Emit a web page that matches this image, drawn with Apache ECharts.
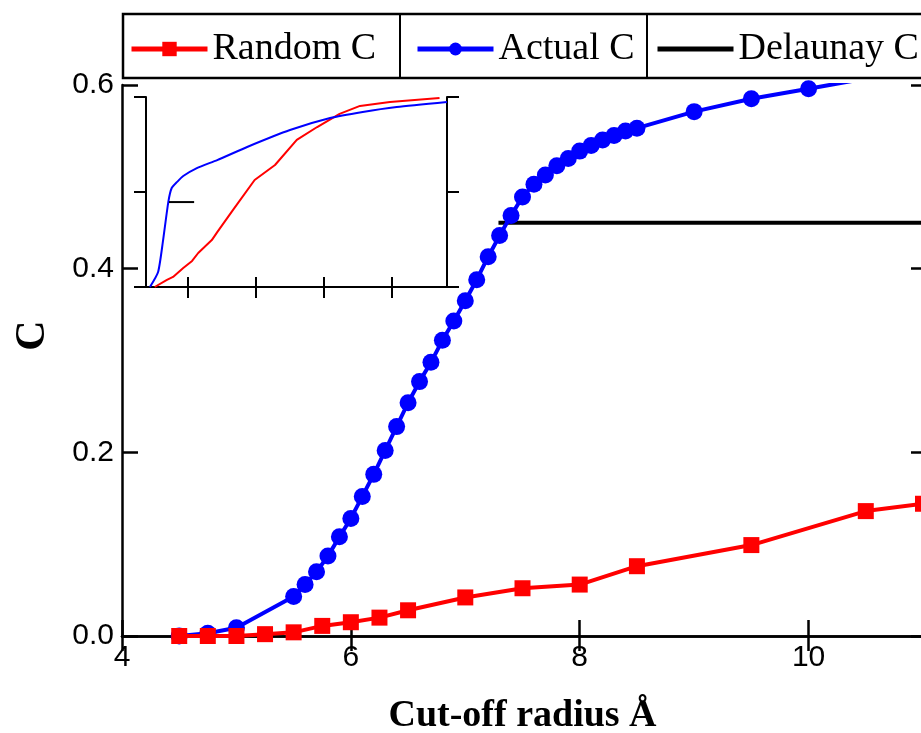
<!DOCTYPE html>
<html>
<head>
<meta charset="utf-8">
<script src="https://cdn.jsdelivr.net/npm/echarts@6/dist/echarts.min.js"></script>
<style>
  html, body { margin: 0; padding: 0; background: #fff; }
  #chart { width: 921px; height: 733px; }
</style>
</head>
<body>
<div id="chart"></div>
<script>
// main panel data: C against cut-off radius
const randomX = [4.5, 4.75, 5.0, 5.25, 5.5, 5.75, 6.0, 6.25, 6.5, 7.0, 7.5, 8.0, 8.5, 9.5, 10.5, 11.0]
const randomC = [0, 0, 0, 0.002, 0.004, 0.011, 0.015, 0.02, 0.028, 0.042, 0.052, 0.056, 0.076, 0.099, 0.136, 0.144]

const actualX = [4.5, 4.75, 5.0, 5.5, 5.6, 5.7, 5.8, 5.9, 6.0, 6.1, 6.2, 6.3, 6.4, 6.5, 6.6, 6.7, 6.8, 6.9, 7.0,
  7.1, 7.2, 7.3, 7.4, 7.5, 7.6, 7.7, 7.8, 7.9, 8.0, 8.1, 8.2, 8.3, 8.4, 8.5, 9.0, 9.5, 10.0, 10.5]
const actualC = [0, 0.003, 0.009, 0.043, 0.056, 0.07, 0.087, 0.108, 0.128, 0.152, 0.176, 0.202, 0.228, 0.254, 0.277,
  0.298, 0.322, 0.343, 0.365, 0.388, 0.413, 0.436, 0.458, 0.478, 0.492, 0.502, 0.512, 0.52, 0.528, 0.534, 0.54,
  0.545, 0.55, 0.553, 0.571, 0.585, 0.596, 0.607]

const delaunayX = [7.29, 11.0]
const delaunayC = [0.45, 0.45]

const xTicks = [4, 6, 8, 10]

// inset data (unlabelled axes)
const insetActualX = [0.44, 0.56, 0.63, 0.71, 0.76, 0.84, 0.93, 1.13, 1.43, 1.87, 2.5, 3.09, 3.57, 4.07, 4.81]
const insetActualC = [0, 0.079, 0.237, 0.447, 0.521, 0.553, 0.584, 0.626, 0.668, 0.737, 0.826, 0.889, 0.921, 0.947, 0.974]
const insetRandomX = [0.51, 0.69, 0.78, 0.93, 1.06, 1.15, 1.35, 1.43, 1.66, 1.98, 2.28, 2.6, 2.9, 3.23, 3.53, 3.97, 4.7]
const insetRandomC = [0, 0.037, 0.053, 0.1, 0.137, 0.179, 0.247, 0.289, 0.405, 0.563, 0.642, 0.774, 0.842, 0.911, 0.953, 0.974, 0.995]
const insetDelaunayX = [0.72, 1.09]
const insetDelaunayC = [0.447, 0.447]
const insetXTicks = [1, 2, 3, 4]

const pairs = (xs, ys) => xs.map((x, i) => [x, ys[i]])

const chart = echarts.init(document.getElementById('chart'))

const sansLabel = { fontFamily: 'Liberation Sans', fontSize: 30, color: '#000' }
const lineBlack = { color: '#000', width: 2.5 }
const legendText = { fontFamily: 'Liberation Serif', fontSize: 38, color: '#000' }

const option = {
  animation: false,
  backgroundColor: '#fff',
  grid: [
    { left: 122, top: 85, width: 801, height: 551, outerBoundsMode: 'none', containLabel: false },
    { left: 146, top: 97, width: 301, height: 190, outerBoundsMode: 'none', containLabel: false }
  ],
  legend: [
    {
      data: ['Random C'], left: 129, top: 30, padding: 0,
      itemWidth: 76, itemHeight: 18, lineStyle: { width: 5 },
      textStyle: legendText
    },
    {
      data: ['Actual C'], left: 415, top: 30, padding: 0,
      itemWidth: 76, itemHeight: 16, lineStyle: { width: 5 },
      textStyle: legendText
    },
    {
      data: [{ name: 'Delaunay C', itemStyle: { opacity: 0 } }], left: 655, top: 30, padding: 0,
      itemWidth: 76, itemHeight: 16, lineStyle: { width: 5 },
      textStyle: legendText
    }
  ],
  // legend frame with cell dividers
  graphic: [
    { type: 'rect', shape: { x: 123, y: 14, width: 810, height: 64 }, style: { fill: 'none', stroke: '#000', lineWidth: 2.5 } },
    { type: 'line', shape: { x1: 400, y1: 14, x2: 400, y2: 78 }, style: { stroke: '#000', lineWidth: 2 } },
    { type: 'line', shape: { x1: 647, y1: 14, x2: 647, y2: 78 }, style: { stroke: '#000', lineWidth: 2 } }
  ],
  xAxis: [
    {
      type: 'value', gridIndex: 0, position: 'bottom', min: 4, max: 11, interval: 2,
      name: 'Cut-off radius Å', nameLocation: 'middle', nameGap: 61,
      nameTextStyle: { fontFamily: 'Liberation Serif', fontWeight: 'bold', fontSize: 38, color: '#000' },
      axisLine: { lineStyle: lineBlack },
      axisTick: { inside: true, length: 16, lineStyle: lineBlack },
      axisLabel: { ...sansLabel, margin: 7, customValues: xTicks },
      splitLine: { show: false }
    },
    {
      type: 'value', gridIndex: 0, position: 'top', min: 4, max: 11, interval: 2,
      axisLine: { lineStyle: lineBlack },
      axisTick: { inside: true, length: 15, lineStyle: lineBlack },
      axisLabel: { show: false },
      splitLine: { show: false }
    },
    {
      type: 'value', gridIndex: 1, position: 'bottom', min: 0.382, max: 4.81,
      axisLine: { lineStyle: { color: '#000', width: 2 } },
      axisTick: { inside: true, length: 10, customValues: insetXTicks, lineStyle: { color: '#000', width: 2 } },
      axisLabel: { show: false },
      splitLine: { show: false }
    },
    {
      type: 'value', gridIndex: 1, position: 'top', min: 0.382, max: 4.81,
      axisLine: { lineStyle: { color: '#000', width: 2 } },
      axisTick: { inside: true, length: 11, customValues: insetXTicks, lineStyle: { color: '#000', width: 2 } },
      axisLabel: { show: false },
      splitLine: { show: false }
    }
  ],
  yAxis: [
    {
      type: 'value', gridIndex: 0, position: 'left', min: 0, max: 0.6, interval: 0.2,
      name: 'C', nameLocation: 'middle', nameGap: 68, nameRotate: 90,
      nameTextStyle: { fontFamily: 'Liberation Serif', fontWeight: 'bold', fontSize: 42, color: '#000', padding: [0, 0, 0, 50] },
      axisLine: { lineStyle: lineBlack },
      axisTick: { inside: true, length: 16, lineStyle: lineBlack },
      axisLabel: { ...sansLabel, margin: 8, formatter: v => v.toFixed(1) },
      splitLine: { show: false }
    },
    {
      type: 'value', gridIndex: 0, position: 'right', min: 0, max: 0.6, interval: 0.2,
      axisLine: { lineStyle: lineBlack },
      axisTick: { inside: true, length: 12, lineStyle: lineBlack },
      axisLabel: { show: false },
      splitLine: { show: false }
    },
    {
      type: 'value', gridIndex: 1, position: 'left', min: 0, max: 1, interval: 0.5,
      axisLine: { lineStyle: { color: '#000', width: 2 } },
      axisTick: { length: 12, lineStyle: { color: '#000', width: 2 } },
      axisLabel: { show: false },
      splitLine: { show: false }
    },
    {
      type: 'value', gridIndex: 1, position: 'right', min: 0, max: 1, interval: 0.5,
      axisLine: { lineStyle: { color: '#000', width: 2 } },
      axisTick: { length: 12, lineStyle: { color: '#000', width: 2 } },
      axisLabel: { show: false },
      splitLine: { show: false }
    }
  ],
  series: [
    {
      name: 'Delaunay C', type: 'line', xAxisIndex: 0, yAxisIndex: 0,
      data: pairs(delaunayX, delaunayC), showSymbol: false, symbol: 'none',
      lineStyle: { color: '#000', width: 4 }, itemStyle: { color: '#000' }, z: 2
    },
    {
      name: 'Random C', type: 'line', xAxisIndex: 0, yAxisIndex: 0,
      data: pairs(randomX, randomC), symbol: 'rect', symbolSize: 16,
      lineStyle: { color: '#ff0000', width: 4 }, itemStyle: { color: '#ff0000' }, z: 4
    },
    {
      name: 'Actual C', type: 'line', xAxisIndex: 0, yAxisIndex: 0,
      data: pairs(actualX, actualC), symbol: 'circle', symbolSize: 17, clip: true,
      lineStyle: { color: '#0000ff', width: 4 }, itemStyle: { color: '#0000ff' }, z: 3
    },
    {
      name: 'inset random', type: 'line', xAxisIndex: 2, yAxisIndex: 2,
      data: pairs(insetRandomX, insetRandomC), showSymbol: false, symbol: 'none',
      lineStyle: { color: '#ff0000', width: 2 }, z: 5
    },
    {
      name: 'inset actual', type: 'line', xAxisIndex: 2, yAxisIndex: 2,
      data: pairs(insetActualX, insetActualC), showSymbol: false, symbol: 'none', smooth: 0.2,
      lineStyle: { color: '#0000ff', width: 2 }, z: 5
    },
    {
      name: 'inset delaunay', type: 'line', xAxisIndex: 2, yAxisIndex: 2,
      data: pairs(insetDelaunayX, insetDelaunayC), showSymbol: false, symbol: 'none',
      lineStyle: { color: '#000', width: 2 }, z: 5
    }
  ]
}

chart.setOption(option)
</script>
</body>
</html>
